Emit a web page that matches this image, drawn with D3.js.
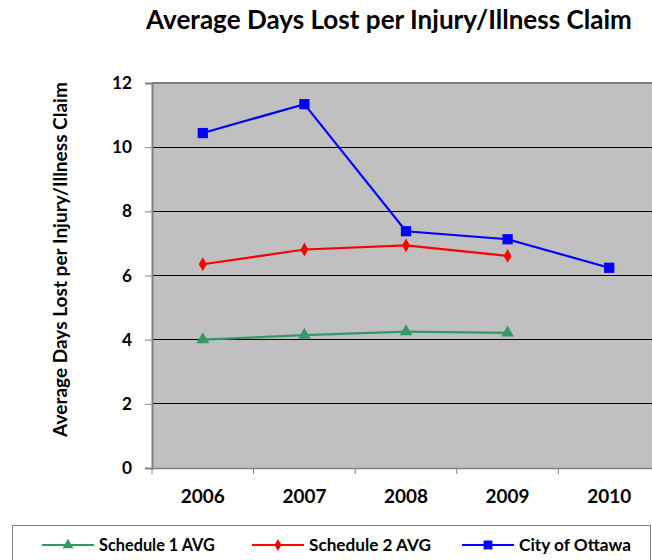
<!DOCTYPE html>
<html><head><meta charset="utf-8">
<script src="https://cdn.jsdelivr.net/npm/d3@7"></script>
<style>
html,body{margin:0;padding:0;background:#fff;}
svg{display:block;font-family:Lato,"Open Sans",sans-serif;font-weight:bold;}
</style></head>
<body>
<svg id="chart" width="652" height="560"></svg>
<script>
const years = ["2006","2007","2008","2009","2010"];
const yTicks = [0,2,4,6,8,10,12];
const schedule1 = [4.00, 4.14, 4.25, 4.21, null];
const schedule2 = [6.35, 6.81, 6.94, 6.61, null];
const ottawa = [10.44, 11.34, 7.38, 7.13, 6.24];
const seriesNames = ["Schedule 1 AVG","Schedule 2 AVG","City of Ottawa"];
const seriesColors = ["#339966","#FF0000","#0000FF"];
const seriesMarkers = ["triangle","diamond","square"];
const titleText = "Average Days Lost per Injury/Illness Claim";
const yTitleText = "Average Days Lost per Injury/Illness Claim";

const svg = d3.select("#chart");
const L = 152, R = 660, T = 83, B = 468;
const FONT = "Lato, 'Open Sans', sans-serif";

// scale a text's font-size so its rendered width matches a target width
function fit(sel, target, base) {
  sel.attr("font-size", base);
  const w = sel.node().getComputedTextLength();
  sel.attr("font-size", base * target / w);
  return sel;
}

const x = d3.scaleBand().domain(years).range([L, R]);
const y = d3.scaleLinear().domain([0, 12]).range([B, T]);

svg.append("rect").attr("x", L).attr("y", T).attr("width", R - L).attr("height", B - T)
  .attr("fill", "#C0C0C0");

svg.append("g").selectAll("line").data(yTicks.filter(d => d > 0 && d < 12)).join("line")
  .attr("x1", L).attr("x2", R).attr("y1", d => y(d)).attr("y2", d => y(d))
  .attr("stroke", "#000").attr("stroke-width", 1).attr("shape-rendering", "crispEdges");
svg.append("line").attr("x1", L).attr("x2", R).attr("y1", T).attr("y2", T)
  .attr("stroke", "#808080").attr("stroke-width", 2);

// y axis
const yAxis = svg.append("g").attr("transform", `translate(${L},0)`)
  .call(d3.axisLeft(y).tickValues(yTicks).tickSize(7).tickPadding(13));
yAxis.select(".domain").attr("stroke", "#808080").attr("stroke-width", 2);
yAxis.selectAll(".tick line").attr("stroke", "#808080");
yAxis.selectAll(".tick text").attr("font-weight", "bold")
  .attr("font-family", FONT).attr("fill", "#000");
{
  const t12 = yAxis.selectAll(".tick text").filter(d => d === 12);
  fit(t12, 20, 18);
  yAxis.selectAll(".tick text").attr("font-size", t12.attr("font-size"));
}

// x axis
const xAxis = svg.append("g").attr("transform", `translate(0,${B})`)
  .call(d3.axisBottom(x).tickSize(0).tickPadding(0));
xAxis.select(".domain").attr("stroke", "#808080").attr("stroke-width", 1.5);
xAxis.selectAll(".tick text").attr("font-weight", "bold").attr("dy", null).attr("y", 35)
  .attr("font-family", FONT).attr("fill", "#000");
{
  const t = xAxis.selectAll(".tick text").filter(d => d === "2006");
  fit(t, 44, 18);
  xAxis.selectAll(".tick text").attr("font-size", t.attr("font-size"));
}
svg.append("g").selectAll("line").data(years).join("line")
  .attr("x1", d => x(d)).attr("x2", d => x(d)).attr("y1", B).attr("y2", B + 6)
  .attr("stroke", "#808080").attr("stroke-width", 1);

// series
const data = [schedule1, schedule2, ottawa];
const symType = {triangle: d3.symbolTriangle, diamond: d3.symbolDiamond, square: d3.symbolSquare};
const symSize = {triangle: 70, diamond: 55, square: 105};
const cx = d => x(d) + x.bandwidth() / 2;

data.forEach((vals, i) => {
  const pts = years.map((yr, j) => ({yr, v: vals[j]})).filter(p => p.v != null);
  svg.append("path").datum(pts)
    .attr("d", d3.line().x(p => cx(p.yr)).y(p => y(p.v)))
    .attr("fill", "none").attr("stroke", seriesColors[i]).attr("stroke-width", 2.2);
  svg.append("g").selectAll("path").data(pts).join("path")
    .attr("transform", p => `translate(${cx(p.yr)},${y(p.v)})`)
    .attr("d", d3.symbol().type(symType[seriesMarkers[i]]).size(symSize[seriesMarkers[i]]))
    .attr("fill", seriesColors[i]);
});

// title
fit(svg.append("text").attr("x", 389).attr("y", 29).attr("text-anchor", "middle")
  .attr("font-weight", "bold").attr("fill", "#000").text(titleText), 486, 22);

// y title
fit(svg.append("text").attr("transform", `translate(67,259.5) rotate(-90)`).attr("text-anchor", "middle")
  .attr("font-weight", "bold").attr("fill", "#000").text(yTitleText), 355, 16);

// legend
svg.append("rect").attr("x", 12.5).attr("y", 525.5).attr("width", 638).attr("height", 60)
  .attr("fill", "#fff").attr("stroke", "#808080").attr("stroke-width", 1);
const legX = [42, 252, 462];
const legW = [116, 122, 112];
seriesNames.forEach((name, i) => {
  const g = svg.append("g").attr("transform", `translate(${legX[i]},545)`);
  g.append("line").attr("x1", 0).attr("x2", 52).attr("y1", 0).attr("y2", 0)
    .attr("stroke", seriesColors[i]).attr("stroke-width", 2.2);
  g.append("path").attr("transform", "translate(26,0)")
    .attr("d", d3.symbol().type(symType[seriesMarkers[i]]).size(symSize[seriesMarkers[i]] * 0.75))
    .attr("fill", seriesColors[i]);
  fit(g.append("text").attr("x", 57).attr("y", 5.5)
    .attr("font-weight", "bold").attr("fill", "#000").text(name), legW[i], 15);
});
</script>
</body></html>
